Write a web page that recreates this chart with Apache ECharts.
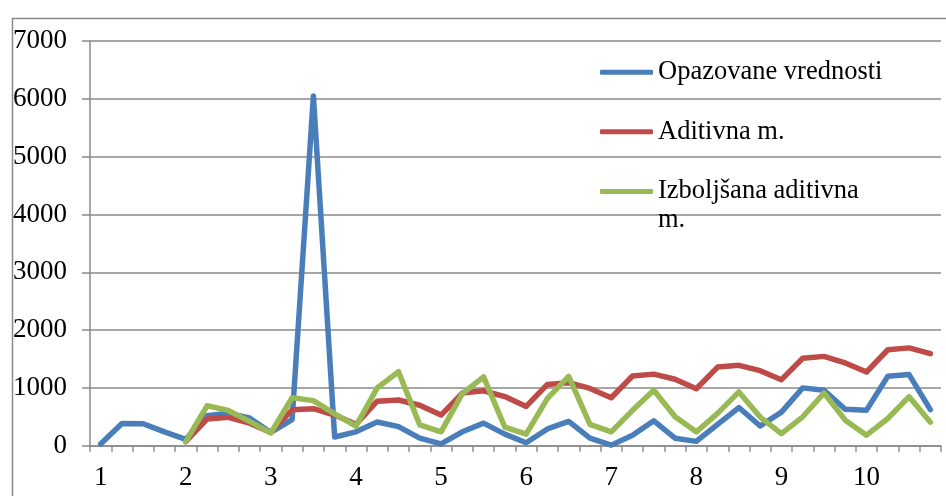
<!DOCTYPE html>
<html><head><meta charset="utf-8">
<script src="https://cdn.jsdelivr.net/npm/echarts@6/dist/echarts.min.js"></script>
<style>html,body{margin:0;padding:0;background:#fff}#c{width:946px;height:496px}</style>
</head><body><div id="c"></div>
<script>
const categories = [
  '1.1','1.2','1.3','1.4','2.1','2.2','2.3','2.4','3.1','3.2','3.3','3.4',
  '4.1','4.2','4.3','4.4','5.1','5.2','5.3','5.4','6.1','6.2','6.3','6.4',
  '7.1','7.2','7.3','7.4','8.1','8.2','8.3','8.4','9.1','9.2','9.3','9.4',
  '10.1','10.2','10.3','10.4'
];
const seriesNames = ['Opazovane vrednosti', 'Aditivna m.', 'Izboljšana aditivna m.'];
const observed = [30,385,380,240,110,520,560,480,230,450,6050,150,240,410,330,130,30,240,390,200,
  50,290,420,130,10,180,430,130,75,370,660,340,580,1000,960,630,615,1200,1230,625];
const additive = [null,null,null,null,70,460,490,390,230,620,640,530,370,770,790,700,530,910,950,850,
  680,1060,1090,990,830,1205,1238,1150,985,1360,1390,1298,1142,1513,1545,1431,1275,1660,1692,1591];
const improved = [null,null,null,null,70,690,610,420,220,830,780,550,340,1000,1280,360,240,900,1190,320,
  200,820,1200,370,240,612,960,500,240,558,930,495,210,500,912,442,182,470,848,407];
const yTicks = { min: 0, max: 7000, interval: 1000 };

const FONT = 'Liberation Serif';
const GRAY = '#8a8a8a';
const colors = ['#4a7ebb', '#be4b48', '#98b954'];

const chart = echarts.init(document.getElementById('c'), null, { renderer: 'canvas' });
const legendBase = {
  orient: 'vertical', left: 600, padding: 0, icon: 'roundRect',
  itemWidth: 53, itemHeight: 5, selectedMode: false,
  textStyle: { fontFamily: FONT, fontSize: 26.5, color: '#000', lineHeight: 29 }
};
const iconY = [72.3, 131.7, 191.5];
chart.setOption({
  animation: false,
  color: colors,
  graphic: [{
    type: 'rect', left: 10, top: 16, z: -1,
    shape: { width: 1000, height: 1000 },
    style: { fill: 'none', stroke: GRAY, lineWidth: 1.5 }
  }],
  grid: { left: 90, right: 5, top: 41, bottom: 50.3 },
  legend: [
    Object.assign({}, legendBase, { top: iconY[0] - 14.5, data: [seriesNames[0]] }),
    Object.assign({}, legendBase, { top: iconY[1] - 14.5, data: [seriesNames[1]] }),
    Object.assign({}, legendBase, { top: iconY[2] - 43.5, data: [seriesNames[2]],
      formatter: n => '\n' + n.replace(' m.', '\nm.') })
  ],
  xAxis: {
    type: 'category', data: categories, boundaryGap: true,
    axisLine: { lineStyle: { color: GRAY, width: 1.5 } },
    axisTick: { show: true, interval: 0, length: 6, alignWithLabel: false, lineStyle: { color: GRAY, width: 1.5 } },
    axisLabel: { interval: 3, margin: 19, fontFamily: FONT, fontSize: 27, color: '#000',
      formatter: v => v.split('.')[0] },
    splitLine: { show: false }
  },
  yAxis: {
    type: 'value', min: yTicks.min, max: yTicks.max, interval: yTicks.interval,
    axisLine: { show: true, lineStyle: { color: GRAY, width: 1.5 } },
    axisTick: { show: true, length: 8, lineStyle: { color: GRAY, width: 1.5 } },
    axisLabel: { margin: 23, fontFamily: FONT, fontSize: 27, color: '#000',
      formatter: v => String(v) },
    splitLine: { show: true, lineStyle: { color: GRAY, width: 1.5 } }
  },
  series: [
    { name: seriesNames[0], type: 'line', data: observed, symbol: 'none',
      lineStyle: { width: 5.5, cap: 'round', join: 'round' } },
    { name: seriesNames[1], type: 'line', data: additive, symbol: 'none',
      lineStyle: { width: 5.5, cap: 'round', join: 'round' } },
    { name: seriesNames[2], type: 'line', data: improved, symbol: 'none',
      lineStyle: { width: 5.5, cap: 'round', join: 'round' } }
  ]
});
</script></body></html>
